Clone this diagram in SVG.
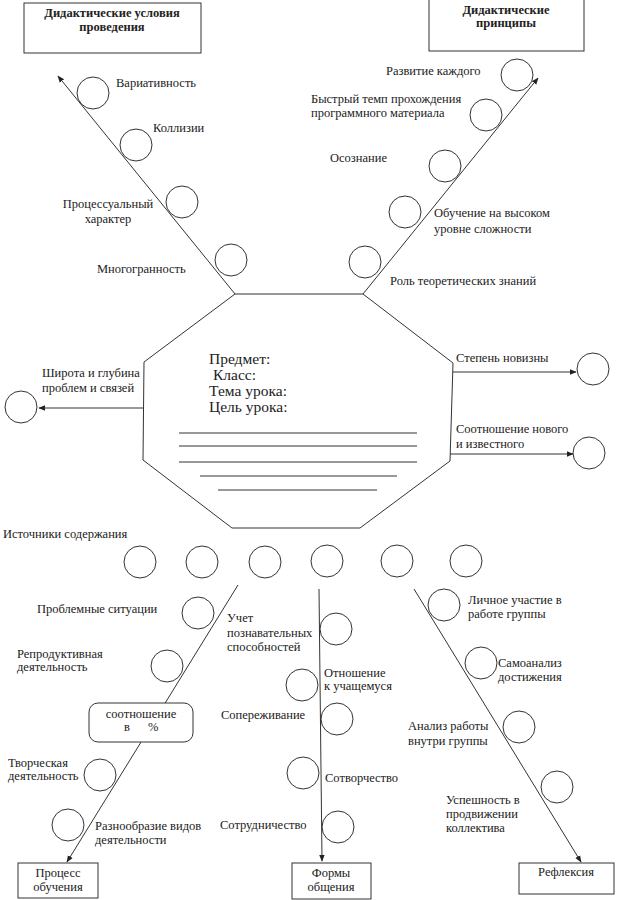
<svg xmlns="http://www.w3.org/2000/svg" width="631" height="900" viewBox="0 0 631 900">
<defs>
<marker id="ah" viewBox="0 0 10 10" refX="9" refY="5" markerWidth="7" markerHeight="7" markerUnits="userSpaceOnUse" orient="auto">
<path d="M0,1 L10,5 L0,9 z" fill="#222"/>
</marker>
<style>
text{font-family:"Liberation Serif","Times New Roman",serif;font-size:12.5px;fill:#222}
.b{font-weight:bold}
.c{text-anchor:middle}
.big{font-size:15.5px}
.ln{stroke:#333;stroke-width:1;fill:none}
.cir{stroke:#333;stroke-width:1;fill:none}
.box{stroke:#333;stroke-width:1;fill:#fff}
</style>
</defs>
<rect width="631" height="900" fill="#fff"/>

<g id="connectors">
<line class="ln" x1="235" y1="294" x2="58" y2="76" marker-end="url(#ah)"/>
<line class="ln" x1="363" y1="294" x2="538" y2="78" marker-end="url(#ah)"/>
<line class="ln" x1="144" y1="408" x2="39" y2="408" marker-end="url(#ah)"/>
<line class="ln" x1="453" y1="372" x2="576" y2="372" marker-end="url(#ah)"/>
<line class="ln" x1="450" y1="454" x2="573" y2="454" marker-end="url(#ah)"/>
<line class="ln" x1="238" y1="585" x2="67" y2="862" marker-end="url(#ah)"/>
<line class="ln" x1="319" y1="589" x2="322" y2="861" marker-end="url(#ah)"/>
<line class="ln" x1="414" y1="589" x2="581" y2="862" marker-end="url(#ah)"/>
</g>

<g id="center">
<polygon class="box" points="235,294 363,294 453,363 450,461 360,528 232,528 143,460 144,362"/>
<text class="big" x="209" y="364">Предмет:</text>
<text class="big" x="213" y="380">Класс:</text>
<text class="big" x="209" y="396">Тема урока:</text>
<text class="big" x="209" y="412">Цель урока:</text>
<line class="ln" x1="179" y1="433" x2="417" y2="433"/>
<line class="ln" x1="179" y1="446" x2="417" y2="446"/>
<line class="ln" x1="179" y1="462" x2="417" y2="462"/>
<line class="ln" x1="200" y1="476" x2="397" y2="476"/>
<line class="ln" x1="218" y1="490" x2="377" y2="490"/>
</g>

<g id="box-conditions">
<rect class="box" x="24" y="3" width="177" height="50"/>
<text class="b c" x="112" y="17">Дидактические условия</text>
<text class="b c" x="112" y="31">проведения</text>
</g>
<g id="box-principles">
<rect class="box" x="429" y="-1" width="155" height="52"/>
<text class="b c" x="506" y="14">Дидактические</text>
<text class="b c" x="506" y="27">принципы</text>
</g>

<g id="conditions-items">
<circle class="cir" cx="93" cy="93" r="16"/>
<text x="116" y="87">Вариативность</text>
<circle class="cir" cx="136" cy="145" r="16"/>
<text x="153" y="132">Коллизии</text>
<circle class="cir" cx="182" cy="202" r="16"/>
<text class="c" x="108" y="208">Процессуальный</text>
<text class="c" x="108" y="223">характер</text>
<circle class="cir" cx="231" cy="260" r="16"/>
<text x="97" y="273">Многогранность</text>
</g>

<g id="principles-items">
<circle class="cir" cx="517" cy="75" r="16"/>
<text x="386" y="75">Развитие каждого</text>
<circle class="cir" cx="486" cy="115" r="16"/>
<text x="311" y="103">Быстрый темп прохождения</text>
<text x="311" y="117">программного материала</text>
<circle class="cir" cx="445" cy="166" r="16"/>
<text x="330" y="162">Осознание</text>
<circle class="cir" cx="405" cy="212" r="16"/>
<text x="434" y="217">Обучение на высоком</text>
<text x="434" y="233">уровне сложности</text>
<circle class="cir" cx="365" cy="262" r="16"/>
<text x="390" y="285">Роль теоретических знаний</text>
</g>

<g id="side-items">
<circle class="cir" cx="21" cy="407" r="16"/>
<text x="42" y="377">Широта и глубина</text>
<text x="42" y="392">проблем и связей</text>
<circle class="cir" cx="593" cy="369" r="16"/>
<text x="456" y="362">Степень новизны</text>
<circle class="cir" cx="589" cy="453" r="16"/>
<text x="456" y="433">Соотношение нового</text>
<text x="456" y="448">и известного</text>
</g>

<g id="sources">
<text x="3" y="538">Источники содержания</text>
<circle class="cir" cx="140" cy="562" r="16"/>
<circle class="cir" cx="202" cy="562" r="16"/>
<circle class="cir" cx="265" cy="562" r="16"/>
<circle class="cir" cx="327" cy="561" r="16"/>
<circle class="cir" cx="397" cy="561" r="16"/>
<circle class="cir" cx="466" cy="561" r="16"/>
</g>

<g id="process-items">
<circle class="cir" cx="198" cy="613" r="16"/>
<text x="37" y="613">Проблемные ситуации</text>
<circle class="cir" cx="167" cy="666" r="16"/>
<text x="17" y="658">Репродуктивная</text>
<text x="17" y="671">деятельность</text>
<circle class="cir" cx="100" cy="775" r="16"/>
<text x="8" y="767">Творческая</text>
<text x="8" y="780">деятельность</text>
<circle class="cir" cx="68" cy="825" r="16"/>
<text x="95" y="830">Разнообразие видов</text>
<text x="95" y="844">деятельности</text>
</g>
<g id="ratio">
<rect class="box" x="89" y="703" width="104" height="39" rx="9"/>
<text class="c" x="141" y="718">соотношение</text>
<text x="124" y="731">в</text>
<text x="148" y="731">%</text>
</g>

<g id="forms-items">
<circle class="cir" cx="336" cy="629" r="16"/>
<text x="227" y="622">Учет</text>
<text x="227" y="637">познавательных</text>
<text x="227" y="651">способностей</text>
<circle class="cir" cx="302" cy="685" r="16"/>
<text x="324" y="677">Отношение</text>
<text x="324" y="690">к учащемуся</text>
<circle class="cir" cx="337" cy="719" r="16"/>
<text x="221" y="719">Сопереживание</text>
<circle class="cir" cx="303" cy="773" r="16"/>
<text x="325" y="782">Сотворчество</text>
<circle class="cir" cx="338" cy="827" r="16"/>
<text x="220" y="829">Сотрудничество</text>
</g>

<g id="reflection-items">
<circle class="cir" cx="444" cy="605" r="16"/>
<text x="468" y="604">Личное участие в</text>
<text x="468" y="618">работе группы</text>
<circle class="cir" cx="481" cy="663" r="16"/>
<text x="498" y="667">Самоанализ</text>
<text x="498" y="681">достижения</text>
<circle class="cir" cx="519" cy="727" r="16"/>
<text x="408" y="730">Анализ работы</text>
<text x="408" y="745">внутри группы</text>
<circle class="cir" cx="557" cy="787" r="16"/>
<text x="446" y="804">Успешность в</text>
<text x="446" y="818">продвижении</text>
<text x="446" y="832">коллектива</text>
</g>

<g id="box-process">
<rect class="box" x="18" y="863" width="80" height="35"/>
<text class="c" x="58" y="877">Процесс</text>
<text class="c" x="58" y="891">обучения</text>
</g>
<g id="box-forms">
<rect class="box" x="292" y="863" width="79" height="36"/>
<text class="c" x="331" y="877">Формы</text>
<text class="c" x="331" y="891">общения</text>
</g>
<g id="box-reflection">
<rect class="box" x="519" y="863" width="95" height="31"/>
<text class="c" x="566" y="876">Рефлексия</text>
</g>
</svg>
